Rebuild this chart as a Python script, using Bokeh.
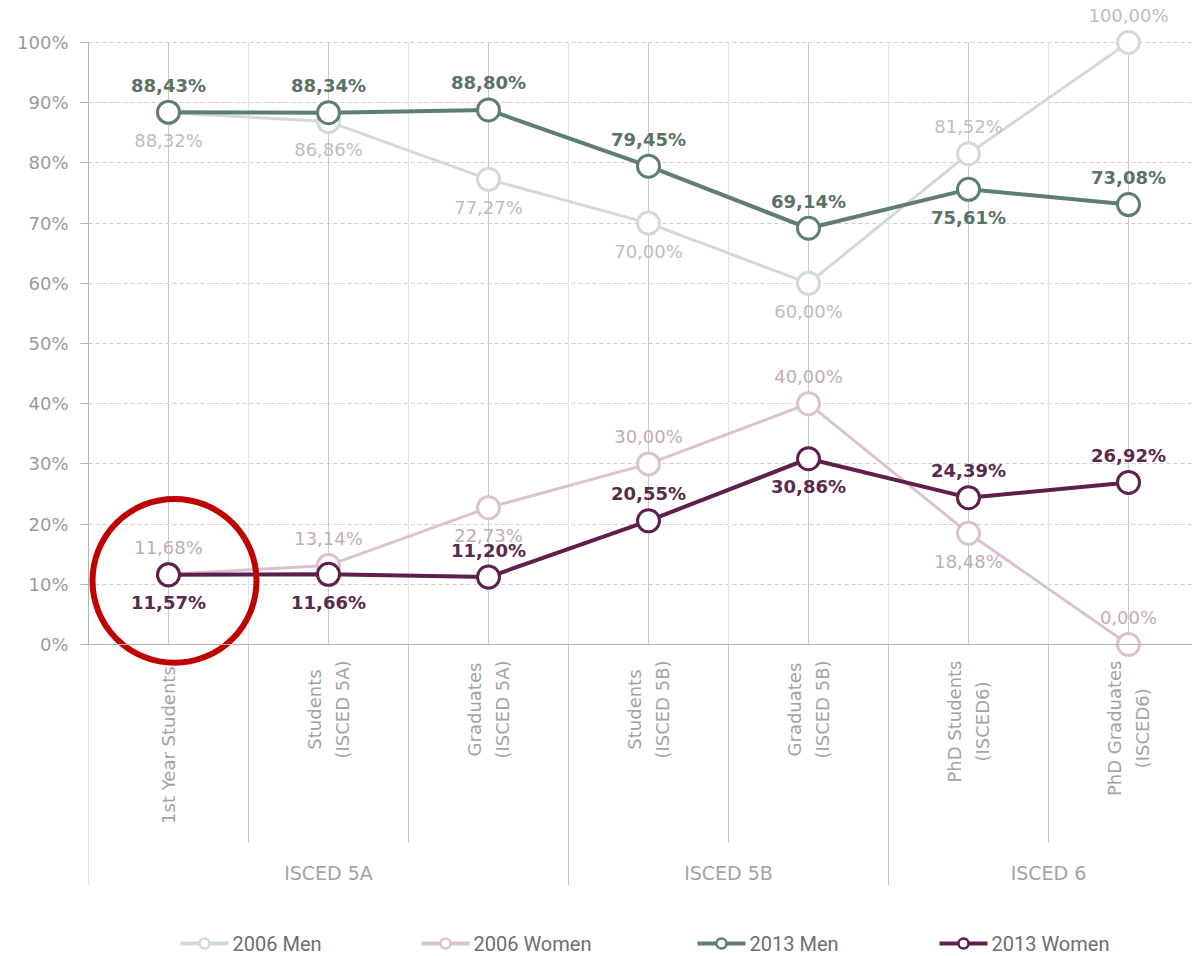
import math
from bokeh.plotting import figure
from bokeh.models import Range1d, FixedTicker, PrintfTickFormatter, Span
from bokeh.core.properties import value
from bokeh.embed import file_html
from bokeh.resources import INLINE

# ---------------- data ----------------
categories = ["1st Year  Students", "Students\n(ISCED 5A)", "Graduates\n(ISCED 5A)",
              "Students\n(ISCED 5B)", "Graduates\n(ISCED 5B)",
              "PhD Students\n(ISCED6)", "PhD Graduates\n(ISCED6)"]
groups = ["ISCED 5A", "ISCED 5B", "ISCED 6"]
group_sizes = [3, 2, 2]
series_names = ["2006 Men", "2006 Women", "2013 Men", "2013 Women"]
men_2006 = [88.32, 86.86, 77.27, 70.00, 60.00, 81.52, 100.00]
women_2006 = [11.68, 13.14, 22.73, 30.00, 40.00, 18.48, 0.00]
men_2013 = [88.43, 88.34, 88.80, 79.45, 69.14, 75.61, 73.08]
women_2013 = [11.57, 11.66, 11.20, 20.55, 30.86, 24.39, 26.92]
side_men_2006 = ["below", "below", "below", "below", "below", "above", "above"]
side_women_2006 = ["above", "above", "below", "above", "above", "below", "above"]
side_men_2013 = ["above", "above", "above", "above", "above", "below", "above"]
side_women_2013 = ["below", "below", "above", "above", "below", "above", "above"]
y_ticks = [0, 10, 20, 30, 40, 50, 60, 70, 80, 90, 100]

# ---------------- layout constants ----------------
W, H = 1192, 956
LEFT = 88
PX_X = 160.0           # px per category
TOP_PAD = 42           # px from frame top to 100 %
ZERO_PX = 644          # px from frame top to 0 %
PX_Y = (ZERO_PX - TOP_PAD) / 100.0
x_start = -0.5
x_end = x_start + (W - LEFT) / PX_X
y_end = 100 + TOP_PAD / PX_Y
y_start = -(H - ZERO_PX) / PX_Y


def ybelow(px):
    """data y for a distance in px below the 0 % line"""
    return -px / PX_Y


def xshift(px):
    return px / PX_X


FONT = "DejaVu Sans"

p = figure(width=W, height=H, output_backend="svg", toolbar_location=None,
           x_range=Range1d(x_start, x_end), y_range=Range1d(y_start, y_end),
           x_axis_location=None, min_border_left=LEFT, min_border_right=0,
           min_border_top=0, min_border_bottom=0)
p.outline_line_color = None
p.background_fill_color = "white"
p.border_fill_color = "white"
p.xgrid.visible = False

yax = p.yaxis[0]
yax.ticker = FixedTicker(ticks=y_ticks)
yax.formatter = PrintfTickFormatter(format="%d%%")
yax.bounds = (0, 100)
yax.axis_line_color = "#b4b4b4"
yax.major_tick_line_color = "#b4b4b4"
yax.major_tick_out = 8
yax.major_tick_in = 0
yax.minor_tick_line_color = None
yax.major_label_standoff = 12
yax.major_label_text_font = FONT
yax.major_label_text_font_size = "18px"
yax.major_label_text_color = "#9a9a9a"

p.ygrid.ticker = FixedTicker(ticks=y_ticks[1:])
p.ygrid.grid_line_color = "#cfcfcf"
p.ygrid.grid_line_dash = "4 3"

xs = list(range(len(categories)))

# vertical lines at categories
p.segment(x0=xs, y0=[0] * len(xs), x1=xs, y1=[100] * len(xs),
          line_color="#c9c9c9", line_width=1)

# boundaries
bx, bbottom = [], []
start = 0
for gi, n in enumerate(group_sizes):
    for k in range(n):
        idx = start + k
        b = idx - 0.5
        if k == 0:
            bbottom.append(ybelow(241))
        else:
            bbottom.append(ybelow(198))
        bx.append(b)
    start += n
p.segment(x0=bx, y0=[100] * len(bx), x1=bx, y1=[0] * len(bx),
          line_color="#e3e3e3", line_width=1)
p.segment(x0=bx, y0=[0] * len(bx), x1=bx, y1=bbottom,
          line_color="#c6c6c6", line_width=1)

p.add_layout(Span(location=0, dimension="width", line_color="#b4b4b4", line_width=1))

# category labels (rotated)
p.text(x=xs, y=[ybelow(16)] * len(xs), text=categories, angle=math.pi / 2,
       anchor="center_right", text_align="center", text_baseline="middle",
       text_font=value(FONT), text_font_size="18px", text_color="#a3a3a3",
       text_line_height=1.35)

# group labels
gx = []
start = 0
for n in group_sizes:
    gx.append(start + (n - 1) / 2)
    start += n
p.text(x=gx, y=[ybelow(228)] * len(gx), text=groups, text_align="center",
       text_baseline="middle", text_font=value(FONT), text_font_size="19px",
       text_color="#a3a3a3")

# ---------------- series ----------------
series = [
    (men_2006, side_men_2006, "#d2dad6", "#b8c1bd", 3, "normal"),
    (women_2006, side_women_2006, "#dbc2d0", "#c3abb9", 3, "normal"),
    (men_2013, side_men_2013, "#5e7f70", "#587364", 4, "bold"),
    (women_2013, side_women_2013, "#5e1f4c", "#5a2a4a", 4, "bold"),
]


def fmt(v):
    return ("%.2f" % v).replace(".", ",") + "%"


for vals, sides, lc, tc, lw, fs in series:
    p.line(xs, vals, line_color=lc, line_width=lw)
    p.scatter(xs, vals, size=22, fill_color="white", line_color=lc, line_width=3)
    p.text(x=xs, y=vals, text=[fmt(v) for v in vals],
           y_offset=[-27 if s == "above" else 28 for s in sides],
           text_align="center", text_baseline="middle", text_font=value(FONT),
           text_font_size="18px", text_color=tc, text_font_style=fs)

# red highlight circle around the first category
p.scatter([xs[0] + xshift(6)], [women_2013[0] - 6 / PX_Y], size=164,
          fill_color=None, line_color="#c00000", line_width=6)

# ---------------- legend (manual) ----------------
leg_x = [180, 421, 697, 939]
leg_y = ybelow(299)
for (vals, sides, lc, tc, lw, fs), name, lx in zip(series, series_names, leg_x):
    x0 = x_start + (lx - LEFT) / PX_X
    x1 = x0 + xshift(48)
    p.segment(x0=[x0], y0=[leg_y], x1=[x1], y1=[leg_y], line_color=lc, line_width=4)
    p.scatter([(x0 + x1) / 2], [leg_y], size=10, fill_color="white",
              line_color=lc, line_width=2.5)
    p.text(x=[x1 + xshift(4)], y=[leg_y], text=[name], text_align="left",
           text_baseline="middle", text_font=value("Roboto"),
           text_font_size="20px", text_color="#6e6e6e")

open("out.html", "w").write(file_html(p, INLINE))
